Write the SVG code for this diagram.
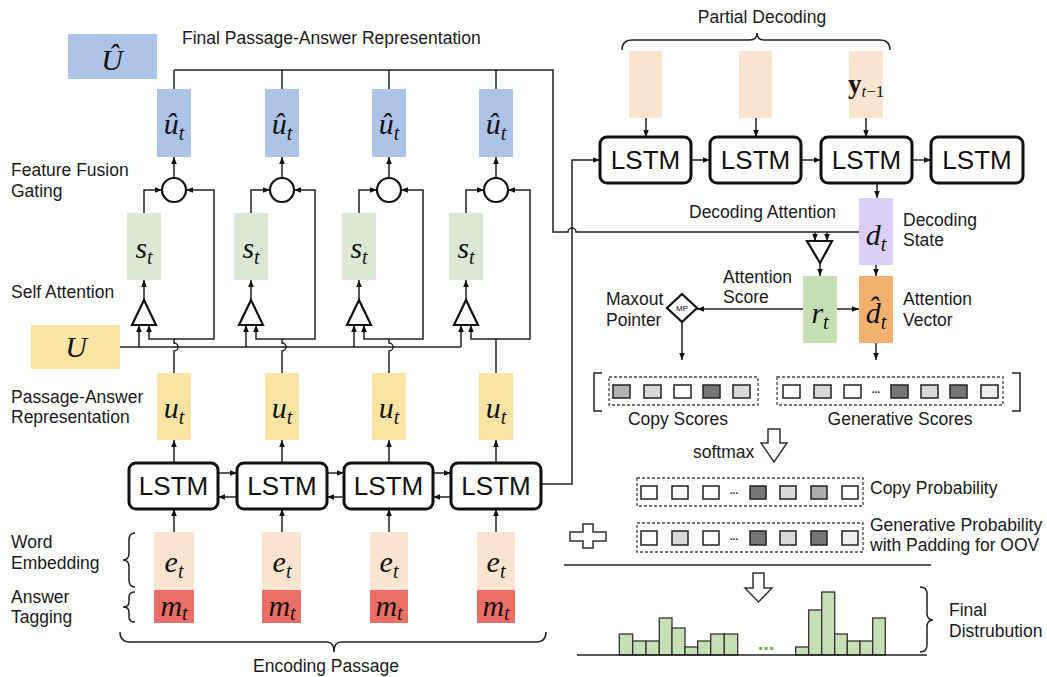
<svg xmlns="http://www.w3.org/2000/svg" width="1047" height="677" viewBox="0 0 1047 677">
<style>
.lbl{font-family:"Liberation Sans",Arial,sans-serif;font-size:17.5px;fill:#1a1a1a}
.m{font-family:"Liberation Serif","Times New Roman",serif;font-style:italic;font-size:30px;fill:#111}
.sub{font-size:20px}
.lstm{fill:#fff;stroke:#111;stroke-width:3}
.lstmt{font-family:"Liberation Sans",Arial,sans-serif;font-size:26px;fill:#111;text-anchor:middle}
.ln{fill:none;stroke:#222;stroke-width:1.5}
.ar{fill:none;stroke:#222;stroke-width:1.5;marker-end:url(#ah)}
.tri{fill:#fff;stroke:#111;stroke-width:2.2}
.hub{fill:#fff;stroke:#111;stroke-width:2.2}
.ub{fill:#adc3e8}
.sb{fill:#dae8d4}
.yb{fill:#fce4a4}
.eb{fill:#fbe5d0}
.mb{fill:#ec6e66}
.dash{fill:none;stroke:#444;stroke-width:1.3;stroke-dasharray:3 2}
.sq{stroke:#222;stroke-width:1.5}
.bar{fill:#c5e0b4;stroke:#333;stroke-width:1.3}
.hol{fill:#fff;stroke:#333;stroke-width:1.5}
</style>
<defs>
<marker id="ah" viewBox="0 0 10 10" refX="10" refY="5" markerWidth="7" markerHeight="7" markerUnits="userSpaceOnUse" orient="auto"><path d="M0,1 L10,5 L0,9 z" fill="#111"/></marker>
</defs>

<!-- labels -->
<g id="labels">
<text class="lbl" x="182" y="44">Final Passage-Answer Representation</text>
<text class="lbl" x="11" y="176">Feature Fusion</text>
<text class="lbl" x="11" y="197">Gating</text>
<text class="lbl" x="11" y="298">Self Attention</text>
<text class="lbl" x="11" y="403">Passage-Answer</text>
<text class="lbl" x="11" y="423">Representation</text>
<text class="lbl" x="11" y="548">Word</text>
<text class="lbl" x="11" y="569">Embedding</text>
<text class="lbl" x="11" y="603">Answer</text>
<text class="lbl" x="11" y="623">Tagging</text>
<text class="lbl" x="326" y="672" text-anchor="middle">Encoding Passage</text>
<text class="lbl" x="762" y="23" text-anchor="middle">Partial Decoding</text>
<text class="lbl" x="689" y="218">Decoding Attention</text>
<text class="lbl" x="903" y="226">Decoding</text>
<text class="lbl" x="903" y="246">State</text>
<text class="lbl" x="723" y="283">Attention</text>
<text class="lbl" x="723" y="303">Score</text>
<text class="lbl" x="606" y="305">Maxout</text>
<text class="lbl" x="606" y="326">Pointer</text>
<text class="lbl" x="903" y="305">Attention</text>
<text class="lbl" x="903" y="326">Vector</text>
<text class="lbl" x="678" y="425" text-anchor="middle">Copy Scores</text>
<text class="lbl" x="900" y="425" text-anchor="middle">Generative Scores</text>
<text class="lbl" x="693" y="458">softmax</text>
<text class="lbl" x="870" y="494">Copy Probability</text>
<text class="lbl" x="870" y="531">Generative Probability</text>
<text class="lbl" x="870" y="551">with Padding for OOV</text>
<text class="lbl" x="949" y="616">Final</text>
<text class="lbl" x="949" y="637">Distrubution</text>
</g>

<!-- braces -->
<g id="braces" class="ln">
<path d="M622,50 Q622,40 632,40 H750 Q757,40 757,33 Q757,40 764,40 H880 Q890,40 890,50"/>
<path d="M120,632 Q120,642 130,642 H327 Q334,642 334,652 Q334,642 341,642 H536 Q546,642 546,632"/>
<path d="M135,533 Q129,533 129,540 V553 Q129,560 123,560 Q129,560 129,567 V580 Q129,587 135,587"/>
<path d="M135,592 Q129,592 129,597 V602 Q129,607 123,607 Q129,607 129,612 V617 Q129,622 135,622"/>
<path d="M920,587 Q927,587 927,594 V613 Q927,620 933,620 Q927,620 927,627 V645 Q927,652 920,652"/>
<path d="M602,373 H594 V411 H602"/>
<path d="M1012,373 H1020 V411 H1012"/>
</g>

<!-- connectors -->
<g id="connectors">
<path class="ln" d="M174,89 V70 M282,89 V70 M389,89 V70 M496,89 V70"/>
<path class="ln" d="M174,70 H553 V232 H568 A4,4 0 0 1 576,232 H860"/>
<path class="ar" d="M815,232 V241"/>
<path class="ar" d="M827,232 V241"/>
<path class="ar" d="M541,484 H572 V160 H600"/>
<path class="ln" d="M120,347 H461"/>
<path class="ar" d="M174,178 V157"/><path class="ar" d="M282,178 V157"/><path class="ar" d="M389,178 V157"/><path class="ar" d="M496,178 V157"/>
<path class="ar" d="M144,213 V190 H162"/><path class="ar" d="M251,213 V190 H270"/><path class="ar" d="M359,213 V190 H377"/><path class="ar" d="M466,213 V190 H484"/>
<path class="ar" d="M174,339 H214 V190 H186"/><path class="ar" d="M282,339 H315 V190 H294"/><path class="ar" d="M389,339 H423 V190 H401"/><path class="ar" d="M496,339 H530 V190 H508"/>
<path class="ar" d="M174,373 V351 A4,4 0 0 0 174,343 V339 H149 V325"/>
<path class="ar" d="M282,373 V351 A4,4 0 0 0 282,343 V339 H256 V325"/>
<path class="ar" d="M389,373 V351 A4,4 0 0 0 389,343 V339 H364 V325"/>
<path class="ar" d="M496,373 V339 H471 V325"/>
<path class="ar" d="M139,347 V325"/><path class="ar" d="M246,347 V325"/><path class="ar" d="M354,347 V325"/><path class="ar" d="M461,347 V325"/>
<path class="ar" d="M144,300 V280"/><path class="ar" d="M251,300 V280"/><path class="ar" d="M359,300 V280"/><path class="ar" d="M466,300 V280"/>
<path class="ar" d="M174,463 V440"/><path class="ar" d="M282,463 V440"/><path class="ar" d="M389,463 V440"/><path class="ar" d="M496,463 V440"/>
<path class="ar" d="M174,532 V509"/><path class="ar" d="M282,532 V509"/><path class="ar" d="M389,532 V509"/><path class="ar" d="M496,532 V509"/>
<path class="ar" d="M218,473 H237"/><path class="ar" d="M237,497 H218"/>
<path class="ar" d="M327,473 H344"/><path class="ar" d="M344,497 H327"/>
<path class="ar" d="M433,473 H451"/><path class="ar" d="M451,497 H433"/>
<path class="ar" d="M646,118 V137"/><path class="ar" d="M756,118 V137"/><path class="ar" d="M866,118 V137"/>
<path class="ar" d="M691,160 H710"/><path class="ar" d="M801,160 H821"/><path class="ar" d="M912,160 H931"/>
<path class="ar" d="M877,183 V198"/>
<path class="ar" d="M876,265 V276"/>
<path class="ar" d="M820,263 V276"/>
<path class="ar" d="M837,309 H859"/>
<path class="ar" d="M803,309 H697"/>
<path class="ar" d="M682,322 V360"/>
<path class="ar" d="M876,343 V360"/>
</g>

<!-- encoder nodes -->
<g id="Uhat"><rect class="ub" x="68" y="34" width="89" height="45"/><text class="m" x="112" y="70" text-anchor="middle" font-size="32">Û</text></g>
<g id="U"><rect class="yb" x="31" y="325" width="89" height="44"/><text class="m" x="76" y="357" text-anchor="middle" font-size="36">U</text></g>

<g id="col1">
<rect class="ub" x="157" y="89" width="34" height="68"/><text class="m" x="174" y="134" text-anchor="middle">û<tspan class="sub" dy="6">t</tspan></text>
<circle class="hub" cx="174" cy="190" r="12"/>
<rect class="sb" x="127" y="213" width="34" height="67"/><text class="m" x="144" y="258" text-anchor="middle">s<tspan class="sub" dy="6">t</tspan></text>
<polygon class="tri" points="132,325 156,325 144,300"/>
<rect class="yb" x="157" y="373" width="34" height="67"/><text class="m" x="174" y="418" text-anchor="middle">u<tspan class="sub" dy="6">t</tspan></text>
<rect class="lstm" x="129" y="463" width="89" height="46" rx="7"/><text class="lstmt" x="173.5" y="495">LSTM</text>
<rect class="eb" x="154" y="532" width="40" height="58"/><text class="m" x="174" y="572" text-anchor="middle">e<tspan class="sub" dy="6">t</tspan></text>
<rect class="mb" x="154" y="590" width="40" height="33"/><text class="m" x="174" y="616" text-anchor="middle">m<tspan class="sub" dy="4">t</tspan></text>
</g>
<g id="col2">
<rect class="ub" x="265" y="89" width="34" height="68"/><text class="m" x="282" y="134" text-anchor="middle">û<tspan class="sub" dy="6">t</tspan></text>
<circle class="hub" cx="282" cy="190" r="12"/>
<rect class="sb" x="234" y="213" width="34" height="67"/><text class="m" x="251" y="258" text-anchor="middle">s<tspan class="sub" dy="6">t</tspan></text>
<polygon class="tri" points="239,325 263,325 251,300"/>
<rect class="yb" x="265" y="373" width="34" height="67"/><text class="m" x="282" y="418" text-anchor="middle">u<tspan class="sub" dy="6">t</tspan></text>
<rect class="lstm" x="237" y="463" width="90" height="46" rx="7"/><text class="lstmt" x="282" y="495">LSTM</text>
<rect class="eb" x="262" y="532" width="39" height="58"/><text class="m" x="282" y="572" text-anchor="middle">e<tspan class="sub" dy="6">t</tspan></text>
<rect class="mb" x="262" y="590" width="39" height="33"/><text class="m" x="282" y="616" text-anchor="middle">m<tspan class="sub" dy="4">t</tspan></text>
</g>
<g id="col3">
<rect class="ub" x="372" y="89" width="34" height="68"/><text class="m" x="389" y="134" text-anchor="middle">û<tspan class="sub" dy="6">t</tspan></text>
<circle class="hub" cx="389" cy="190" r="12"/>
<rect class="sb" x="342" y="213" width="34" height="67"/><text class="m" x="359" y="258" text-anchor="middle">s<tspan class="sub" dy="6">t</tspan></text>
<polygon class="tri" points="347,325 371,325 359,300"/>
<rect class="yb" x="372" y="373" width="34" height="67"/><text class="m" x="389" y="418" text-anchor="middle">u<tspan class="sub" dy="6">t</tspan></text>
<rect class="lstm" x="344" y="463" width="89" height="46" rx="7"/><text class="lstmt" x="388.5" y="495">LSTM</text>
<rect class="eb" x="370" y="532" width="38" height="58"/><text class="m" x="389" y="572" text-anchor="middle">e<tspan class="sub" dy="6">t</tspan></text>
<rect class="mb" x="370" y="590" width="38" height="33"/><text class="m" x="389" y="616" text-anchor="middle">m<tspan class="sub" dy="4">t</tspan></text>
</g>
<g id="col4">
<rect class="ub" x="479" y="89" width="34" height="68"/><text class="m" x="496" y="134" text-anchor="middle">û<tspan class="sub" dy="6">t</tspan></text>
<circle class="hub" cx="496" cy="190" r="12"/>
<rect class="sb" x="449" y="213" width="34" height="67"/><text class="m" x="466" y="258" text-anchor="middle">s<tspan class="sub" dy="6">t</tspan></text>
<polygon class="tri" points="454,325 478,325 466,300"/>
<rect class="yb" x="479" y="373" width="34" height="67"/><text class="m" x="496" y="418" text-anchor="middle">u<tspan class="sub" dy="6">t</tspan></text>
<rect class="lstm" x="451" y="463" width="90" height="46" rx="7"/><text class="lstmt" x="496" y="495">LSTM</text>
<rect class="eb" x="477" y="532" width="38" height="58"/><text class="m" x="496" y="572" text-anchor="middle">e<tspan class="sub" dy="6">t</tspan></text>
<rect class="mb" x="477" y="590" width="38" height="33"/><text class="m" x="496" y="616" text-anchor="middle">m<tspan class="sub" dy="4">t</tspan></text>
</g>

<!-- decoder nodes -->
<g id="dec1"><rect class="eb" x="629" y="51" width="33" height="67"/><rect class="lstm" x="600" y="137" width="91" height="46" rx="7"/><text class="lstmt" x="645.5" y="169">LSTM</text></g>
<g id="dec2"><rect class="eb" x="739" y="51" width="33" height="67"/><rect class="lstm" x="710" y="137" width="91" height="46" rx="7"/><text class="lstmt" x="755.5" y="169">LSTM</text></g>
<g id="dec3"><rect class="eb" x="849" y="51" width="34" height="67"/><text x="848" y="93" font-family="Liberation Serif,serif" font-weight="bold" font-size="27" fill="#111">y<tspan font-weight="normal" font-style="italic" font-size="17" dy="4">t</tspan><tspan font-weight="normal" font-size="17">−1</tspan></text><rect class="lstm" x="821" y="137" width="91" height="46" rx="7"/><text class="lstmt" x="866.5" y="169">LSTM</text></g>
<g id="dec4"><rect class="lstm" x="931" y="137" width="92" height="46" rx="7"/><text class="lstmt" x="977" y="169">LSTM</text></g>
<g id="dt"><rect x="859" y="198" width="34" height="67" fill="#dccff7"/><text class="m" x="876" y="245" text-anchor="middle">d<tspan class="sub" dy="6">t</tspan></text></g>
<g id="attn"><polygon class="tri" points="807,241 832,241 820,263"/></g>
<g id="rt"><rect x="803" y="276" width="34" height="67" fill="#c4dfb3"/><text class="m" x="820" y="323" text-anchor="middle">r<tspan class="sub" dy="6">t</tspan></text></g>
<g id="dhat"><rect x="859" y="276" width="34" height="67" fill="#f3b170"/><text class="m" x="876" y="323" text-anchor="middle">d̂<tspan class="sub" dy="6">t</tspan></text></g>
<g id="mp"><polygon points="682,294 697,308 682,322 667,308" fill="#fff" stroke="#111" stroke-width="2.2"/><text x="682" y="311" font-family="Liberation Sans,sans-serif" font-size="8" text-anchor="middle" fill="#111">MP</text></g>

<!-- score rows -->
<g id="copyScores">
<rect class="dash" x="609" y="377" width="149" height="28"/>
<rect class="sq" x="613" y="385" width="17" height="13" fill="#b3b3b3"/>
<rect class="sq" x="644" y="385" width="17" height="13" fill="#d9d9d9"/>
<rect class="sq" x="674" y="385" width="17" height="13" fill="#fff"/>
<rect class="sq" x="703" y="385" width="17" height="13" fill="#767676"/>
<rect class="sq" x="733" y="385" width="17" height="13" fill="#d9d9d9"/>
</g>
<g id="genScores">
<rect class="dash" x="777" y="377" width="226" height="28"/>
<rect class="sq" x="783" y="385" width="17" height="13" fill="#fff"/>
<rect class="sq" x="814" y="385" width="17" height="13" fill="#d9d9d9"/>
<rect class="sq" x="844" y="385" width="17" height="13" fill="#fff"/>
<text x="876" y="393" font-family="Liberation Sans,sans-serif" font-size="10" font-weight="bold" text-anchor="middle" fill="#222">...</text>
<rect class="sq" x="891" y="385" width="17" height="13" fill="#767676"/>
<rect class="sq" x="921" y="385" width="17" height="13" fill="#d9d9d9"/>
<rect class="sq" x="950" y="385" width="17" height="13" fill="#767676"/>
<rect class="sq" x="981" y="385" width="17" height="13" fill="#efefef"/>
</g>
<g id="softmaxArrow"><polygon class="hol" points="768,429 780,429 780,443 787,443 774,462 761,443 768,443"/></g>
<g id="copyProb">
<rect class="dash" x="637" y="478" width="226" height="28"/>
<rect class="sq" x="641" y="486" width="16" height="13" fill="#fff"/>
<rect class="sq" x="672" y="486" width="16" height="13" fill="#fff"/>
<rect class="sq" x="703" y="486" width="16" height="13" fill="#fff"/>
<text x="734" y="494" font-family="Liberation Sans,sans-serif" font-size="10" font-weight="bold" text-anchor="middle" fill="#222">...</text>
<rect class="sq" x="750" y="486" width="16" height="13" fill="#767676"/>
<rect class="sq" x="780" y="486" width="16" height="13" fill="#d9d9d9"/>
<rect class="sq" x="811" y="486" width="16" height="13" fill="#afabab"/>
<rect class="sq" x="842" y="486" width="16" height="13" fill="#fff"/>
</g>
<g id="genProb">
<rect class="dash" x="637" y="523" width="226" height="29"/>
<rect class="sq" x="641" y="531" width="16" height="14" fill="#fff"/>
<rect class="sq" x="672" y="531" width="16" height="14" fill="#d9d9d9"/>
<rect class="sq" x="703" y="531" width="16" height="14" fill="#fff"/>
<text x="734" y="540" font-family="Liberation Sans,sans-serif" font-size="10" font-weight="bold" text-anchor="middle" fill="#222">...</text>
<rect class="sq" x="750" y="531" width="16" height="14" fill="#767676"/>
<rect class="sq" x="780" y="531" width="16" height="14" fill="#d9d9d9"/>
<rect class="sq" x="811" y="531" width="16" height="14" fill="#767676"/>
<rect class="sq" x="842" y="531" width="16" height="14" fill="#efefef"/>
</g>
<g id="plus"><polygon class="hol" points="583,524 593,524 593,532 606,532 606,541 593,541 593,548 583,548 583,541 570,541 570,532 583,532"/></g>
<path class="ln" d="M564,565 H931"/>
<g id="downArrow"><polygon class="hol" points="753,573 764,573 764,588 772,588 758.5,602 745,588 753,588"/></g>

<!-- histogram -->
<g id="histogram">
<rect class="bar" x="619.3" y="634" width="13.4" height="21"/>
<rect class="bar" x="632.7" y="641" width="13.3" height="14"/>
<rect class="bar" x="646" y="641" width="13.3" height="14"/>
<rect class="bar" x="659.3" y="618" width="12.7" height="37"/>
<rect class="bar" x="672" y="628" width="13" height="27"/>
<rect class="bar" x="685" y="647" width="12.7" height="8"/>
<rect class="bar" x="697.7" y="641" width="13" height="14"/>
<rect class="bar" x="710.7" y="634" width="13.6" height="21"/>
<rect class="bar" x="724.3" y="634" width="13.4" height="21"/>
<text x="766" y="650" font-family="Liberation Sans,sans-serif" font-size="20" font-weight="bold" text-anchor="middle" fill="#70ad47">...</text>
<rect class="bar" x="795.7" y="647" width="13" height="8"/>
<rect class="bar" x="808.7" y="610" width="13" height="45"/>
<rect class="bar" x="821.7" y="592" width="13" height="63"/>
<rect class="bar" x="834.7" y="634" width="12.6" height="21"/>
<rect class="bar" x="847.3" y="641" width="12.7" height="14"/>
<rect class="bar" x="860" y="641" width="12.7" height="14"/>
<rect class="bar" x="872.7" y="618" width="12.6" height="37"/>
<path class="ln" d="M577,655 H927"/>
</g>
</svg>
